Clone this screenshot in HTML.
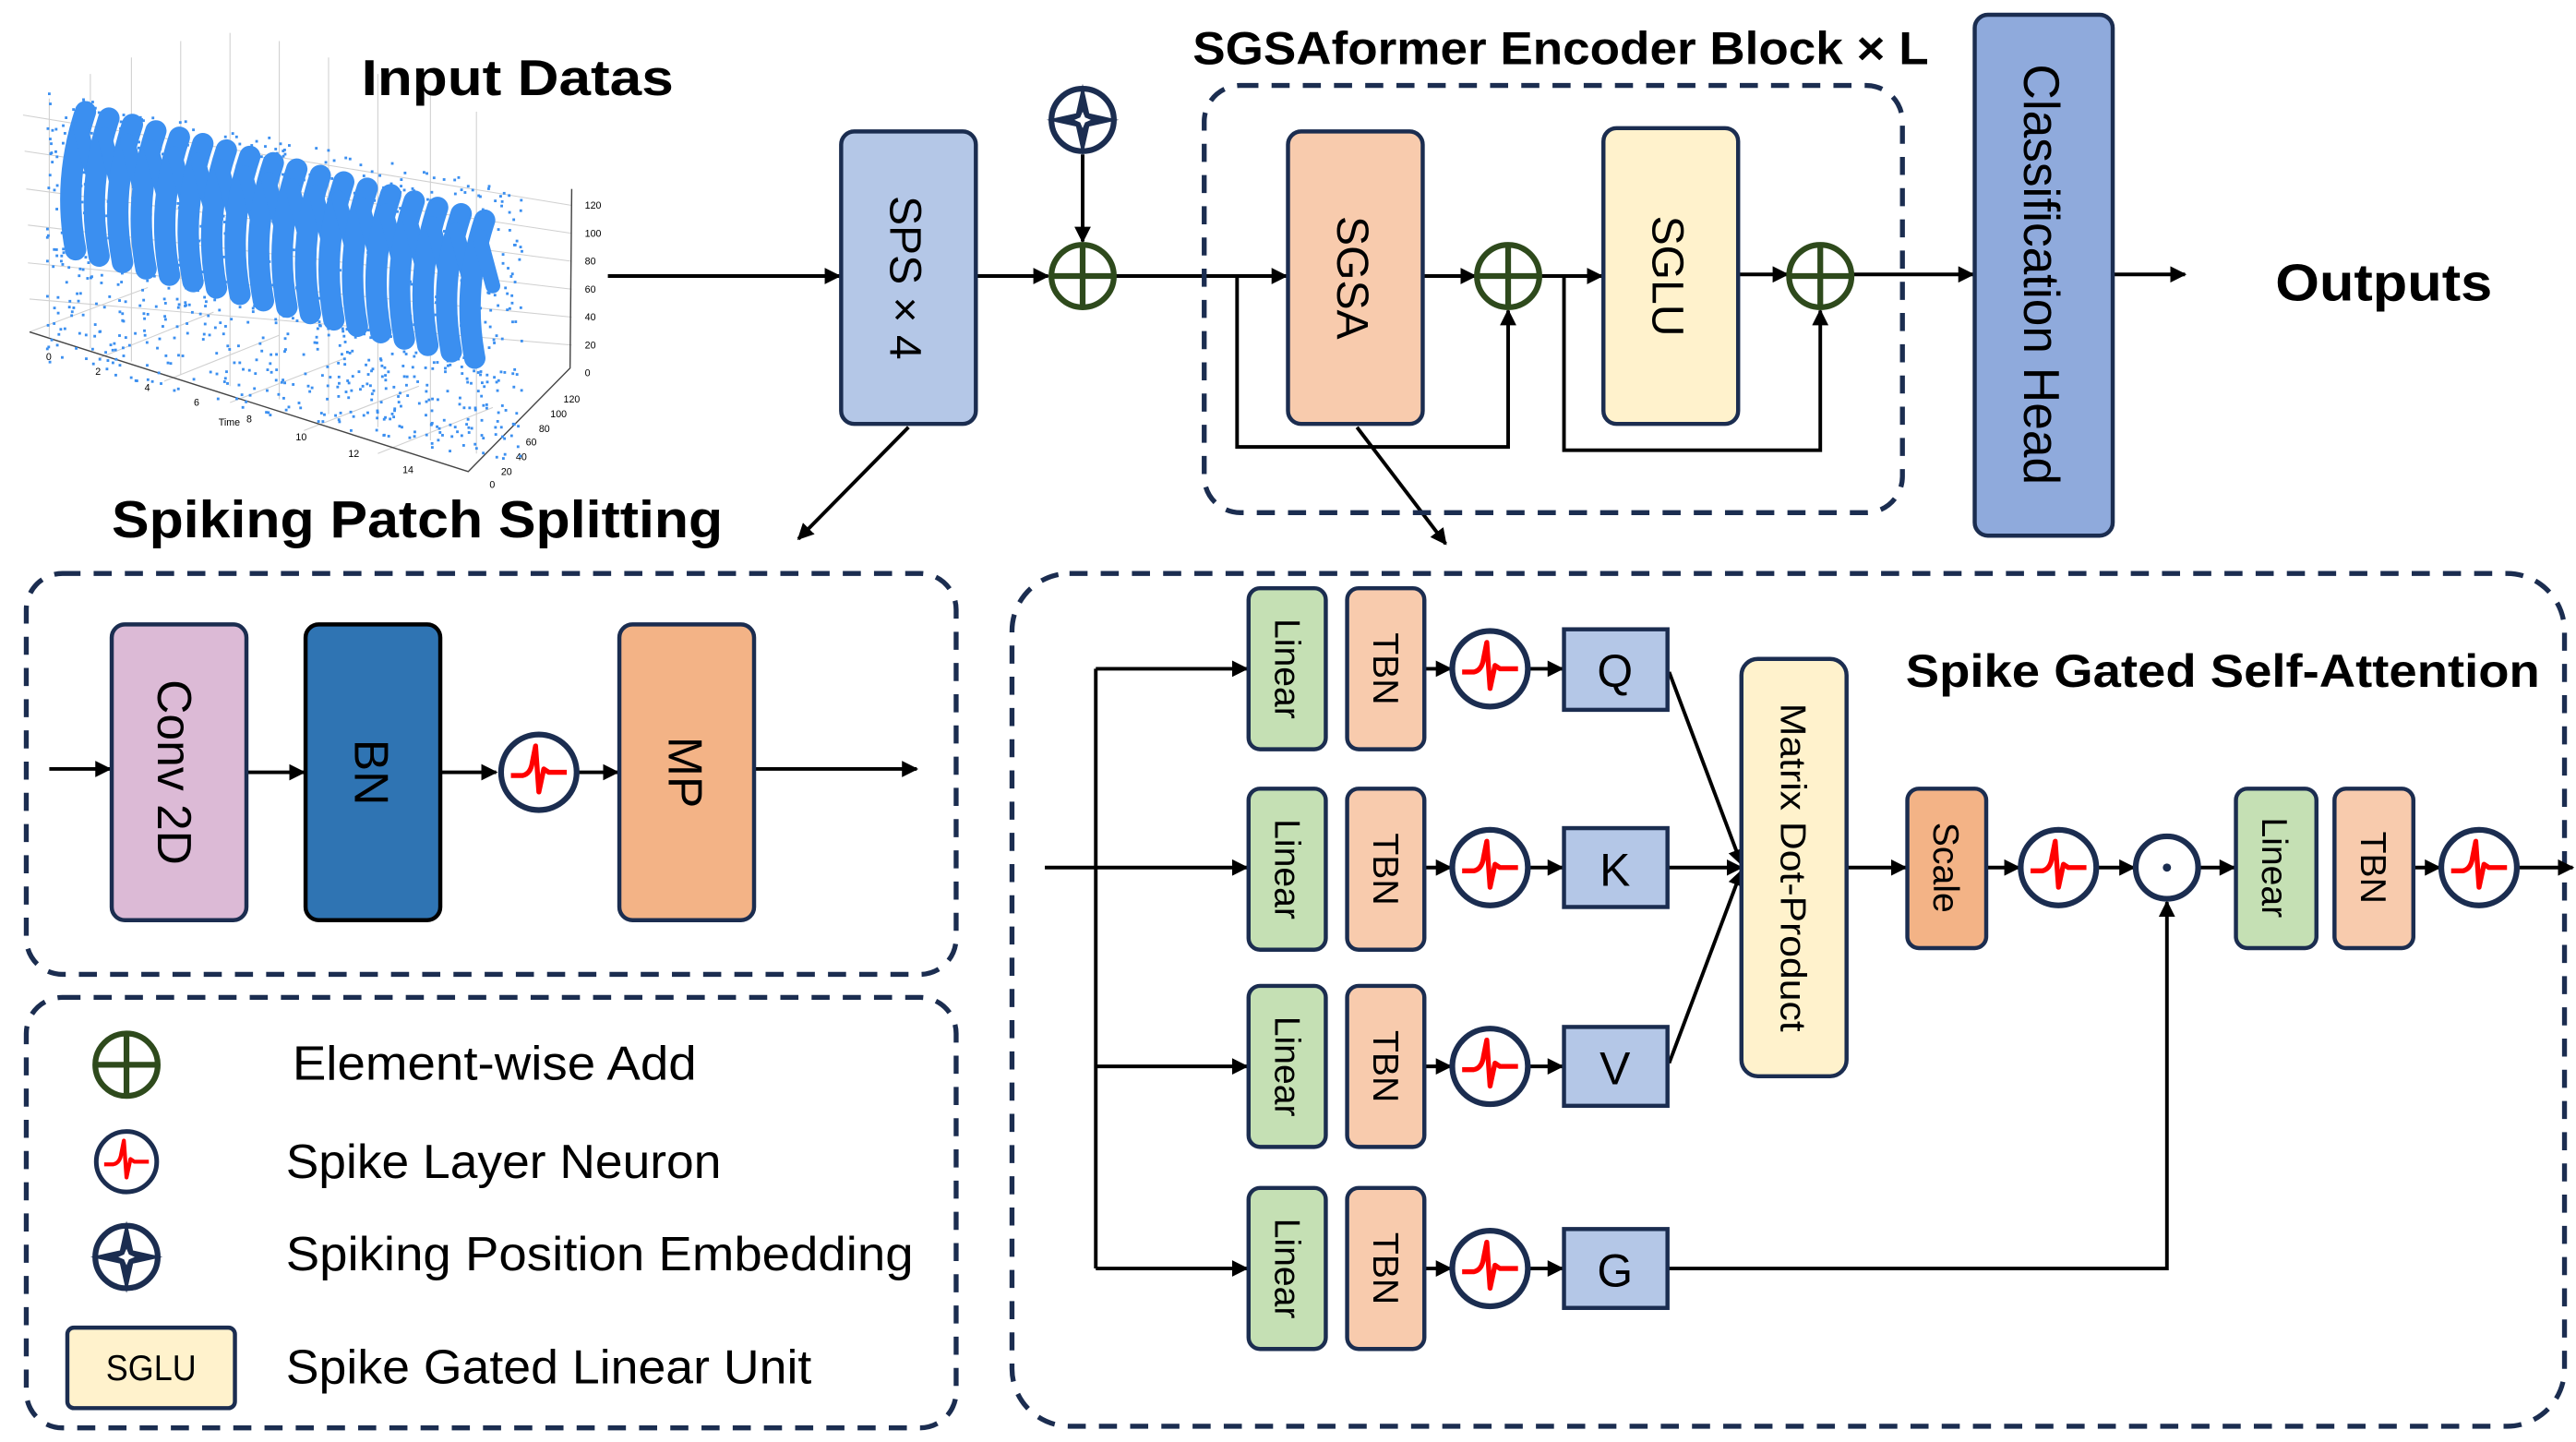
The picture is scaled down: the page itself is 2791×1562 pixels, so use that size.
<!DOCTYPE html>
<html><head><meta charset="utf-8"><style>
html,body{margin:0;padding:0;background:#fff;}
svg{display:block;}
text{font-family:"Liberation Sans",sans-serif;fill:#000;}
.b{font-weight:bold;}
</style></head><body>
<svg id="s" width="2791" height="1562" viewBox="0 0 1568 877.6" preserveAspectRatio="none" xmlns="http://www.w3.org/2000/svg">
<defs>
<marker id="ah" markerWidth="10" markerHeight="10" refX="9" refY="5" orient="auto" markerUnits="userSpaceOnUse"><path d="M0,0 L10,5 L0,10 z" fill="#000"/></marker>
<g id="spk"><circle r="23" fill="#fff" stroke="#1b2d50" stroke-width="3.5"/><path d="M-17,2 L-10,2 Q-5,1 -4,-6 L-2,-16 L0,12 L3,-2 L6,0 L17,0" fill="none" stroke="#f00" stroke-width="3" stroke-linejoin="round"/></g>
<g id="add"><circle r="19" fill="#fff" stroke="#2e4a1c" stroke-width="3.5"/><path d="M-19,0 H19 M0,-19 V19" stroke="#2e4a1c" stroke-width="3.5"/></g>
<g id="pe"><circle r="19" fill="#fff" stroke="#1b2d50" stroke-width="3.5"/><path d="M0,-22 L4,-4 L22,0 L4,4 L0,22 L-4,4 L-22,0 L-4,-4 z" fill="#1b2d50"/><path d="M0,-5 L1.5,-1.5 L5,0 L1.5,1.5 L0,5 L-1.5,1.5 L-5,0 L-1.5,-1.5z" fill="#fff"/></g>
</defs>

<!-- Plot -->
<g id="plot">
<g stroke="#d0d0d0" stroke-width="0.6" fill="none">
<path d="M14,70 L348,125 M15,92 L348,142 M16,115 L348,159 M17,137 L348,176 M17,160 L348,193 M18,182 L348,210"/>
<path d="M30,60 L30,205 M55,45 L55,212 M80,35 L80,220 M110,25 L110,228 M140,20 L140,235 M170,25 L170,243 M200,35 L200,252 M230,45 L230,260 M262,55 L262,268 M290,68 L290,276"/>
<path d="M18,202 L90,175 M60,218 L130,190 M100,232 L170,204 M140,245 L210,218 M185,262 L255,235 M230,276 L300,248"/>
</g>
<path d="M18,202 L285,287 L347,224 L348,115" stroke="#444" stroke-width="0.8" fill="none"/>
<g fill="#333"><text x="356" y="127" style="font-size:6px">120</text><text x="356" y="144" style="font-size:6px">100</text><text x="356" y="161" style="font-size:6px">80</text><text x="356" y="178" style="font-size:6px">60</text><text x="356" y="195" style="font-size:6px">40</text><text x="356" y="212" style="font-size:6px">20</text><text x="356" y="229" style="font-size:6px">0</text>
<text x="28" y="219" style="font-size:6px">0</text><text x="58" y="228" style="font-size:6px">2</text><text x="88" y="238" style="font-size:6px">4</text><text x="118" y="247" style="font-size:6px">6</text><text x="133" y="259" style="font-size:6px">Time</text><text x="150" y="257" style="font-size:6px">8</text><text x="180" y="268" style="font-size:6px">10</text><text x="212" y="278" style="font-size:6px">12</text><text x="245" y="288" style="font-size:6px">14</text>
<text x="343" y="245" style="font-size:6px">120</text><text x="335" y="254" style="font-size:6px">100</text><text x="328" y="263" style="font-size:6px">80</text><text x="320" y="271" style="font-size:6px">60</text><text x="314" y="280" style="font-size:6px">40</text><text x="305" y="289" style="font-size:6px">20</text><text x="298" y="297" style="font-size:6px">0</text></g>
<g id="dots" fill="#3b8ff0"></g>
<g id="strips" stroke="#3b8ff0" stroke-linecap="round" fill="none"></g>
</g>

<text x="315" y="58" class="b" font-size="31" text-anchor="middle" textLength="190" lengthAdjust="spacingAndGlyphs">Input Datas</text>
<text x="254" y="327" class="b" font-size="32" text-anchor="middle" textLength="372" lengthAdjust="spacingAndGlyphs">Spiking Patch Splitting</text>
<text x="950" y="39" class="b" font-size="28" text-anchor="middle" textLength="448" lengthAdjust="spacingAndGlyphs">SGSAformer Encoder Block × L</text>
<text x="1451" y="183" class="b" font-size="32" text-anchor="middle" textLength="132" lengthAdjust="spacingAndGlyphs">Outputs</text>

<g stroke="#000" stroke-width="2.2" fill="none">
<path d="M370,168 H511" marker-end="url(#ah)"/>
<path d="M595,168 H638" marker-end="url(#ah)"/>
<path d="M659,94 V147" marker-end="url(#ah)"/>
<path d="M679,168 H783" marker-end="url(#ah)"/>
<path d="M866,168 H898" marker-end="url(#ah)"/>
<path d="M753,168 V272 H918 V189" marker-end="url(#ah)"/>
<path d="M938,168 H975" marker-end="url(#ah)"/>
<path d="M952,168 V274 H1108 V189" marker-end="url(#ah)"/>
<path d="M1058,167 H1088" marker-end="url(#ah)"/>
<path d="M1128,167 H1201" marker-end="url(#ah)"/>
<path d="M1286,167 H1330" marker-end="url(#ah)"/>
<path d="M553,260 L486,328" marker-end="url(#ah)"/>
<path d="M826,260 L880,331" marker-end="url(#ah)"/>
</g>

<rect x="733" y="52" width="425" height="260" rx="22" fill="none" stroke="#1b2d50" stroke-width="3" stroke-dasharray="11,8"/>

<rect x="512" y="80" width="82" height="178" rx="8" fill="#b4c7e7" stroke="#1b2d50" stroke-width="2.5"/>
<text transform="translate(542,169) rotate(90)" font-size="27" text-anchor="middle">SPS  × 4</text>
<rect x="784" y="80" width="82" height="178" rx="8" fill="#f8cbad" stroke="#1b2d50" stroke-width="2.5"/>
<text transform="translate(814,169) rotate(90)" font-size="27" text-anchor="middle">SGSA</text>
<rect x="976" y="78" width="82" height="180" rx="8" fill="#fff2cc" stroke="#1b2d50" stroke-width="2.5"/>
<text transform="translate(1006,168) rotate(90)" font-size="27" text-anchor="middle">SGLU</text>
<rect x="1202" y="9" width="84" height="317" rx="8" fill="#8faadc" stroke="#1b2d50" stroke-width="2.5"/>
<text transform="translate(1232,167) rotate(90)" font-size="31" text-anchor="middle" textLength="256" lengthAdjust="spacingAndGlyphs">Classification Head</text>

<use href="#add" x="659" y="168"/>
<use href="#pe" x="659" y="73"/>
<use href="#add" x="918" y="168"/>
<use href="#add" x="1108" y="168"/>

<!-- SPS panel -->
<rect x="16" y="349" width="566" height="244" rx="22" fill="none" stroke="#1b2d50" stroke-width="3" stroke-dasharray="11,8"/>
<g stroke="#000" stroke-width="2.2" fill="none">
<path d="M30,468 H67" marker-end="url(#ah)"/>
<path d="M150,470 H185" marker-end="url(#ah)"/>
<path d="M268,470 H302" marker-end="url(#ah)"/>
<path d="M352,470 H376" marker-end="url(#ah)"/>
<path d="M459,468 H558" marker-end="url(#ah)"/>
</g>
<rect x="68" y="380" width="82" height="180" rx="8" fill="#dcbad6" stroke="#1b2d50" stroke-width="2.5"/>
<text transform="translate(96,470) rotate(90)" font-size="29" text-anchor="middle">Conv 2D</text>
<rect x="186" y="380" width="82" height="180" rx="8" fill="#2f74b3" stroke="#000" stroke-width="2.5"/>
<text transform="translate(216,470) rotate(90)" font-size="29" text-anchor="middle">BN</text>
<use href="#spk" x="328" y="470"/>
<rect x="377" y="380" width="82" height="180" rx="8" fill="#f3b386" stroke="#1b2d50" stroke-width="2.5"/>
<text transform="translate(407,470) rotate(90)" font-size="29" text-anchor="middle">MP</text>

<!-- Legend -->
<rect x="16" y="607" width="566" height="262" rx="22" fill="none" stroke="#1b2d50" stroke-width="3" stroke-dasharray="11,8"/>
<use href="#add" x="77" y="648"/>
<text x="178" y="657" font-size="29" textLength="246" lengthAdjust="spacingAndGlyphs">Element-wise Add</text>
<use href="#spk" x="77" y="707" transform="translate(77,707) scale(0.8) translate(-77,-707)"/>
<text x="174" y="717" font-size="29" textLength="265" lengthAdjust="spacingAndGlyphs">Spike Layer Neuron</text>
<use href="#pe" x="77" y="765"/>
<text x="174" y="773" font-size="29" textLength="382" lengthAdjust="spacingAndGlyphs">Spiking Position Embedding</text>
<rect x="41" y="808" width="102" height="49" rx="4" fill="#fff2cc" stroke="#1b2d50" stroke-width="2.5"/>
<text x="92" y="840" font-size="22" text-anchor="middle" textLength="55" lengthAdjust="spacingAndGlyphs">SGLU</text>
<text x="174" y="842" font-size="29" textLength="320" lengthAdjust="spacingAndGlyphs">Spike Gated Linear Unit</text>

<!-- SGSA panel -->
<rect x="616" y="349" width="945" height="519" rx="35" fill="none" stroke="#1b2d50" stroke-width="3" stroke-dasharray="11,8"/>
<text x="1160" y="418" class="b" font-size="28" textLength="386" lengthAdjust="spacingAndGlyphs">Spike Gated  Self-Attention</text>
<g stroke="#000" stroke-width="2.2" fill="none">
<path d="M636,528 H759" marker-end="url(#ah)"/>
<path d="M667,407 V772"/>
<path d="M667,407 H759" marker-end="url(#ah)"/>
<path d="M667,649 H759" marker-end="url(#ah)"/>
<path d="M667,772 H759" marker-end="url(#ah)"/>
<path d="M867,407 H883" marker-end="url(#ah)"/><path d="M931,407 H951" marker-end="url(#ah)"/>
<path d="M867,528 H883" marker-end="url(#ah)"/><path d="M931,528 H951" marker-end="url(#ah)"/>
<path d="M867,649 H883" marker-end="url(#ah)"/><path d="M931,649 H951" marker-end="url(#ah)"/>
<path d="M867,772 H883" marker-end="url(#ah)"/><path d="M931,772 H951" marker-end="url(#ah)"/>
<path d="M1016,409 L1060,526" marker-end="url(#ah)"/>
<path d="M1016,528 H1060" marker-end="url(#ah)"/>
<path d="M1016,647 L1060,530" marker-end="url(#ah)"/>
<path d="M1124,528 H1160" marker-end="url(#ah)"/>
<path d="M1209,528 H1229" marker-end="url(#ah)"/>
<path d="M1277,528 H1299" marker-end="url(#ah)"/>
<path d="M1016,772 H1319 V549" marker-end="url(#ah)"/>
<path d="M1339,528 H1360" marker-end="url(#ah)"/>
<path d="M1469,528 H1485" marker-end="url(#ah)"/>
<path d="M1533,528 H1566" marker-end="url(#ah)"/>
</g>
<g stroke="#1b2d50" stroke-width="2.5">
<rect x="760" y="358" width="47" height="98" rx="7" fill="#c5e0b4"/>
<rect x="760" y="480" width="47" height="98" rx="7" fill="#c5e0b4"/>
<rect x="760" y="600" width="47" height="98" rx="7" fill="#c5e0b4"/>
<rect x="760" y="723" width="47" height="98" rx="7" fill="#c5e0b4"/>
<rect x="820" y="358" width="47" height="98" rx="7" fill="#f8cbad"/>
<rect x="820" y="480" width="47" height="98" rx="7" fill="#f8cbad"/>
<rect x="820" y="600" width="47" height="98" rx="7" fill="#f8cbad"/>
<rect x="820" y="723" width="47" height="98" rx="7" fill="#f8cbad"/>
<rect x="952" y="383" width="63" height="49" fill="#b4c7e7"/>
<rect x="952" y="504" width="63" height="48" fill="#b4c7e7"/>
<rect x="952" y="625" width="63" height="48" fill="#b4c7e7"/>
<rect x="952" y="748" width="63" height="48" fill="#b4c7e7"/>
<rect x="1060" y="401" width="64" height="254" rx="10" fill="#fff2cc"/>
<rect x="1161" y="480" width="48" height="97" rx="7" fill="#f3b386"/>
<rect x="1361" y="480" width="49" height="97" rx="7" fill="#c5e0b4"/>
<rect x="1421" y="480" width="48" height="97" rx="7" fill="#f8cbad"/>
</g>
<g font-size="22" text-anchor="middle">
<text transform="translate(776,407) rotate(90)">Linear</text>
<text transform="translate(776,529) rotate(90)">Linear</text>
<text transform="translate(776,649) rotate(90)">Linear</text>
<text transform="translate(776,772) rotate(90)">Linear</text>
<text transform="translate(836,407) rotate(90)">TBN</text>
<text transform="translate(836,529) rotate(90)">TBN</text>
<text transform="translate(836,649) rotate(90)">TBN</text>
<text transform="translate(836,772) rotate(90)">TBN</text>
<text transform="translate(1084,528) rotate(90)" textLength="200" lengthAdjust="spacingAndGlyphs">Matrix Dot-Product</text>
<text transform="translate(1177,528) rotate(90)">Scale</text>
<text transform="translate(1377,528) rotate(90)">Linear</text>
<text transform="translate(1437,528) rotate(90)">TBN</text>
</g>
<g font-size="28" text-anchor="middle">
<text x="983" y="418">Q</text><text x="983" y="539">K</text><text x="983" y="660">V</text><text x="983" y="783">G</text>
</g>
<use href="#spk" x="907" y="407"/>
<use href="#spk" x="907" y="528"/>
<use href="#spk" x="907" y="649"/>
<use href="#spk" x="907" y="772"/>
<use href="#spk" x="1253" y="528"/>
<use href="#spk" x="1509" y="528"/>
<circle cx="1319" cy="528" r="19" fill="#fff" stroke="#1b2d50" stroke-width="3.5"/>
<circle cx="1319" cy="528" r="2.5" fill="#1b2d50"/>
</svg>
<script>
(function(){
var ns="http://www.w3.org/2000/svg";
var st=document.getElementById("strips"),dt=document.getElementById("dots");
var seed=7;function r(){seed=(seed*16807)%2147483647;return seed/2147483647;}
for(var k=0;k<1100;k++){
 var x=28+r()*290, t=(x-28)/290;
 var y=55+t*60+r()*170;
 if(y>250+t*30)continue;
 var c=document.createElementNS(ns,"rect");
 c.setAttribute("x",x);c.setAttribute("y",y);c.setAttribute("width",1.6);c.setAttribute("height",1.6);
 dt.appendChild(c);
}
for(var i=0;i<18;i++){
 var t=i/17, x=45+t*243, y0=68+t*66, y1=152+t*66;
 var p=document.createElementNS(ns,"path");
 p.setAttribute("d","M"+(x+7)+","+y0+" Q"+(x-7)+","+((y0+y1)/2)+" "+(x+1)+","+y1);
 p.setAttribute("stroke-width","13");st.appendChild(p);
 var q=document.createElementNS(ns,"path");
 q.setAttribute("d","M"+(x+4)+","+(y0+10)+" L"+(x+12)+","+(y0+40));
 q.setAttribute("stroke-width","9");st.appendChild(q);
}
})();
</script>
</body></html>
